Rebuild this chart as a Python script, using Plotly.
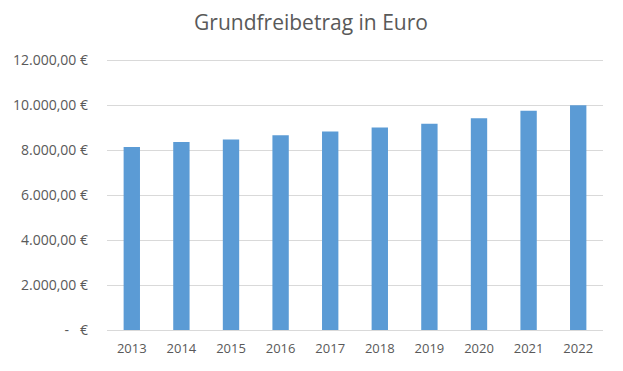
import plotly.graph_objects as go

years = ["2013", "2014", "2015", "2016", "2017", "2018", "2019", "2020", "2021", "2022"]
values = [8130, 8354, 8472, 8652, 8820, 9000, 9168, 9408, 9744, 9984]
tick_vals = [0, 2000, 4000, 6000, 8000, 10000, 12000]
tick_text = ["-   €", "2.000,00 €", "4.000,00 €", "6.000,00 €", "8.000,00 €", "10.000,00 €", "12.000,00 €"]

font_family = "Open Sans, Liberation Sans, sans-serif"
grey = "#595959"

fig = go.Figure(go.Bar(x=years, y=values, marker=dict(color="#5B9BD5", line=dict(width=0)), width=0.33))

fig.update_layout(
    width=615, height=363,
    paper_bgcolor="white", plot_bgcolor="white",
    margin=dict(l=99, r=20, t=51, b=41, autoexpand=False),
    title=dict(text="Grundfreibetrag in Euro", x=0.4927, xref="container", xanchor="center",
               y=0.961, yref="container", yanchor="middle",
               font=dict(family=font_family, size=21, color=grey)),
    font=dict(family=font_family, color=grey),
    showlegend=False,
    bargap=0.67,
)
fig.update_xaxes(type="category", showgrid=False, showline=True, linecolor="#D9D9D9", linewidth=1,
                 ticks="", tickfont=dict(size=13, color=grey), ticklabelstandoff=6, automargin=False)
fig.update_yaxes(range=[0, 12045], tickvals=tick_vals, ticktext=tick_text, showgrid=True,
                 gridcolor="#D9D9D9", gridwidth=1, zeroline=False, showline=False,
                 ticks="", tickfont=dict(size=14, color=grey), ticklabelstandoff=18, automargin=False)

fig.write_html("out.html")
